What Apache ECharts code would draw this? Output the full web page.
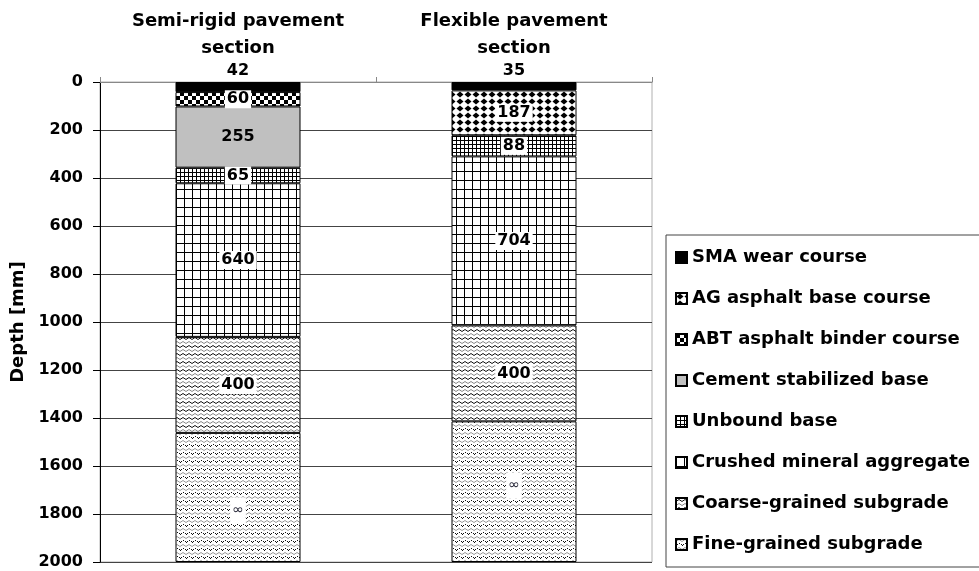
<!DOCTYPE html>
<html>
<head>
<meta charset="utf-8">
<script src="https://cdn.jsdelivr.net/npm/echarts@6/dist/echarts.min.js"></script>
<style>
  html, body { margin: 0; padding: 0; background: #fff; }
  #chart { width: 979px; height: 571px; }
</style>
</head>
<body>
<div id="chart"></div>
<script>
// pavement sections, layer thickness in mm (top to bottom)
const categories = ['Semi-rigid pavement\nsection', 'Flexible pavement\nsection'];
const smaWear = [42, 35];
const agBase = [null, 187];
const abtBinder = [60, null];
const cementBase = [255, null];
const unboundBase = [65, 88];
const crushedAggregate = [640, 704];
const coarseSubgrade = [400, 400];
const fineSubgrade = [538, 586]; // infinite layer, drawn down to the axis end
const depthMin = 0;
const depthMax = 2000;
const depthStep = 200;

const FONT = 'DejaVu Sans';

function makePattern(w, h, draw) {
    let c = document.createElement('canvas');
    c.width = w;
    c.height = h;
    let ctx = c.getContext('2d');
    ctx.fillStyle = '#fff';
    ctx.fillRect(0, 0, w, h);
    draw(ctx);
    return {image: c, repeat: 'repeat'};
}

const patterns = {
    sma: '#000',
    ag: makePattern(8, 7, function (ctx) {
        ctx.fillStyle = '#000';
        ctx.beginPath();
        ctx.moveTo(4, 0.5);
        ctx.lineTo(7.5, 3.5);
        ctx.lineTo(4, 6.5);
        ctx.lineTo(0.5, 3.5);
        ctx.closePath();
        ctx.fill();
    }),
    abt: makePattern(8, 8, function (ctx) {
        ctx.fillStyle = '#000';
        ctx.fillRect(0, 0, 4, 4);
        ctx.fillRect(4, 4, 4, 4);
    }),
    cement: '#c0c0c0',
    unbound: makePattern(4, 4, function (ctx) {
        ctx.fillStyle = '#000';
        ctx.fillRect(0, 0, 4, 1);
        ctx.fillRect(0, 0, 1, 4);
    }),
    crushed: makePattern(8, 9, function (ctx) {
        ctx.fillStyle = '#000';
        ctx.fillRect(0, 0, 8, 1);
        ctx.fillRect(0, 0, 1, 9);
    }),
    coarse: makePattern(6, 8, function (ctx) {
        ctx.lineWidth = 1;
        ctx.strokeStyle = '#111';
        ctx.beginPath();
        ctx.moveTo(0, 3.5); ctx.lineTo(3, 1.5); ctx.lineTo(6, 3.5);
        ctx.stroke();
        ctx.strokeStyle = '#888';
        ctx.beginPath();
        ctx.moveTo(0, 7.5); ctx.lineTo(3, 5.5); ctx.lineTo(6, 7.5);
        ctx.stroke();
    }),
    fine: makePattern(6, 8, function (ctx) {
        ctx.lineWidth = 1;
        ctx.strokeStyle = '#999';
        ctx.beginPath();
        ctx.moveTo(0, 2.5); ctx.lineTo(3, 0.5); ctx.lineTo(6, 2.5);
        ctx.stroke();
        ctx.fillStyle = '#111';
        ctx.fillRect(0, 6, 1, 1);
        ctx.fillRect(1, 5, 1, 1);
        ctx.fillRect(3, 4, 1, 1);
        ctx.fillRect(5, 5, 1, 1);
    })
};

const valueLabel = {
    show: true,
    position: 'inside',
    color: '#000',
    fontFamily: FONT,
    fontWeight: 'bold',
    fontSize: 16,
    backgroundColor: '#fff',
    padding: [1, 2]
};

function layer(name, data, color, label) {
    return {
        name: name,
        type: 'bar',
        stack: 'depth',
        barWidth: 125,
        data: data,
        itemStyle: {color: color, borderColor: '#000', borderWidth: 1},
        label: Object.assign({}, valueLabel, label || {}),
        emphasis: {disabled: true}
    };
}

// the infinity marks sit a little off-centre in the original
const fineData = fineSubgrade.map(function (v, i) {
    return {value: v, label: {offset: [0, i === 0 ? 13 : -6]}};
});

let myChart = echarts.init(document.getElementById('chart'));
myChart.setOption({
    animation: false,
    textStyle: {fontFamily: FONT},
    grid: {
        left: 100,
        right: 327,
        top: 82,
        bottom: 9,
        show: true,
        borderColor: '#b0b0b0',
        borderWidth: 1
    },
    legend: {
        orient: 'vertical',
        left: 666,
        top: 235,
        padding: [12, 40, 12, 9],
        itemWidth: 11,
        itemHeight: 11,
        itemGap: 20,
        icon: 'rect',
        borderColor: '#444',
        borderWidth: 1,
        textStyle: {
            fontFamily: FONT,
            fontWeight: 'bold',
            fontSize: 18,
            color: '#000',
            lineHeight: 21
        }
    },
    xAxis: {
        type: 'category',
        position: 'top',
        data: categories,
        axisLine: {lineStyle: {color: '#888'}},
        axisTick: {show: true, length: 5, lineStyle: {color: '#888'}},
        axisLabel: {
            interval: 0,
            margin: 20,
            color: '#000',
            fontFamily: FONT,
            fontWeight: 'bold',
            fontSize: 18,
            lineHeight: 27
        }
    },
    yAxis: {
        type: 'value',
        inverse: true,
        min: depthMin,
        max: depthMax,
        interval: depthStep,
        name: 'Depth [mm]',
        nameLocation: 'middle',
        nameGap: 66,
        nameTextStyle: {
            color: '#000',
            fontFamily: FONT,
            fontWeight: 'bold',
            fontSize: 18
        },
        axisLine: {show: true, lineStyle: {color: '#000'}},
        axisTick: {show: true, length: 7, lineStyle: {color: '#000'}},
        axisLabel: {
            margin: 17,
            color: '#000',
            fontFamily: FONT,
            fontWeight: 'bold',
            fontSize: 16,
            formatter: function (v) { return String(v); }
        },
        splitLine: {lineStyle: {color: '#444'}}
    },
    series: [
        layer('SMA wear course', smaWear, patterns.sma,
            {position: 'top', distance: 3, backgroundColor: 'transparent', padding: 0}),
        layer('AG asphalt base course', agBase, patterns.ag),
        layer('ABT asphalt binder course', abtBinder, patterns.abt),
        layer('Cement stabilized base', cementBase, patterns.cement,
            {backgroundColor: 'transparent'}),
        layer('Unbound base', unboundBase, patterns.unbound),
        layer('Crushed mineral aggregate', crushedAggregate, patterns.crushed),
        layer('Coarse-grained subgrade', coarseSubgrade, patterns.coarse),
        layer('Fine-grained subgrade', fineData, patterns.fine,
            {formatter: '∞', fontWeight: 'normal', fontSize: 14, color: '#223', padding: [6, 2]})
    ]
});
</script>
</body>
</html>
